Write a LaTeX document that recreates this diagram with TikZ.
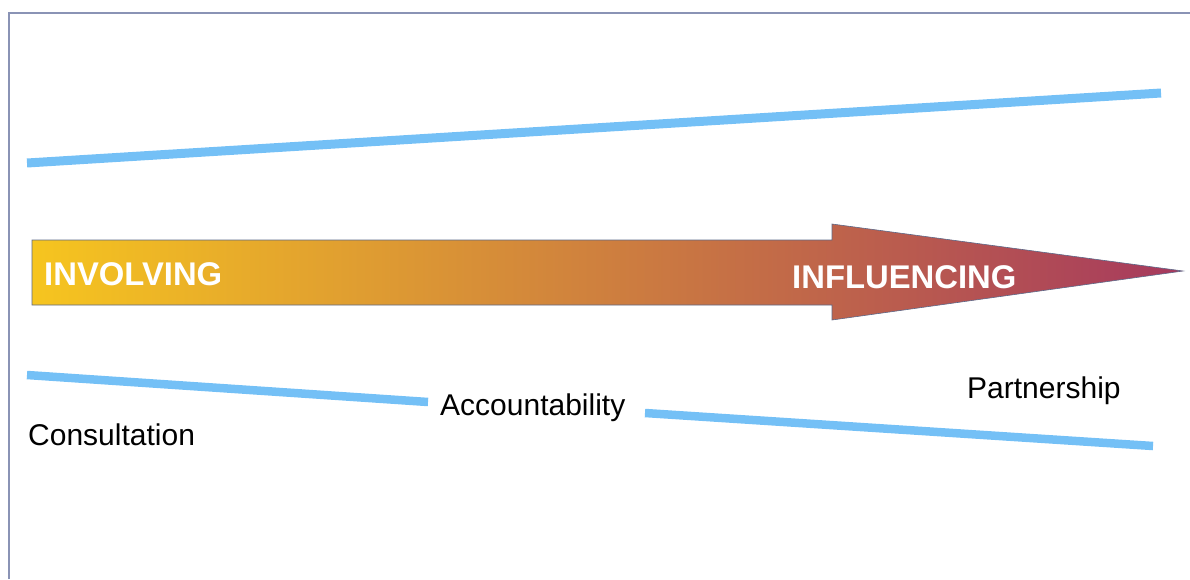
\documentclass[tikz,border=0pt]{standalone}
\usepackage{fontspec}
\setmainfont{Liberation Sans}
\usetikzlibrary{positioning}

\definecolor{frameblue}{HTML}{8A93B5}
\definecolor{lineblue}{HTML}{74C0F6}
\definecolor{startyellow}{HTML}{F6C51F}
\definecolor{midorange}{HTML}{DC8B40}
\definecolor{endred}{HTML}{A6395E}
\definecolor{arrowedge}{HTML}{5C6888}

\tikzset{
  bandline/.style={lineblue, line width=8.5pt},
  stagetext/.style={anchor=base west, inner sep=0pt, font=\fontsize{30}{33}\selectfont},
  bigtext/.style={anchor=base west, inner sep=0pt, text=white, font=\fontsize{32.8}{36}\selectfont\bfseries}
}

\begin{document}
\begin{tikzpicture}[x=1pt,y=-1pt]
  \useasboundingbox (0,0) rectangle (1190,579);

  % frame
  \draw [frameblue, line width=2pt] (9,579) -- (9,13) -- (1190,13);

  % upper band
  \coordinate (TopLeft) at (27,163);
  \coordinate (TopRight) at (1161,93);
  \draw [bandline, line width=9pt] (TopLeft) -- (TopRight);

  % arrow
  \draw [arrowedge, line width=0.6pt, left color=startyellow, middle color=midorange, right color=endred]
    (32,240) -- (832,240) -- (832,224) -- (1183,271) -- (832,320) -- (832,305) -- (32,305) -- cycle;

  \node [bigtext] (Involving) at (44,285) {INVOLVING};
  \node [bigtext] (Influencing) at (792,288) {INFLUENCING};

  % stages
  \node [stagetext] (Consultation) at (28,445) {Consultation};
  \node [stagetext] (Accountability) at (440,415) {Accountability};
  \node [stagetext] (Partnership) at (967,398) {Partnership};

  % lower band
  \coordinate (LowLeft) at (27,375);
  \coordinate (LowMidA) at (428,402);
  \coordinate (LowMidB) at (645,413);
  \coordinate (LowRight) at (1153,446);
  \draw [bandline] (LowLeft) -- (LowMidA);
  \draw [bandline] (LowMidB) -- (LowRight);

\end{tikzpicture}
\end{document}
